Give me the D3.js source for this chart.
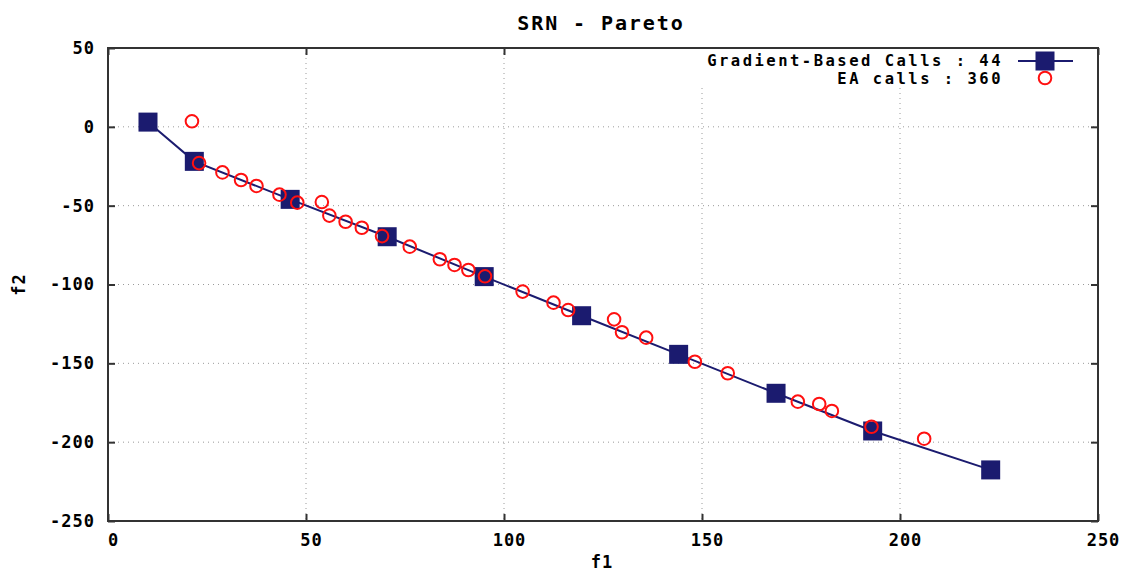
<!DOCTYPE html>
<html>
<head>
<meta charset="utf-8">
<script src="https://cdn.jsdelivr.net/npm/d3@7"></script>
<style>
  html, body { margin: 0; padding: 0; background: #fff; }
  svg { display: block; }
  text { font-family: "DejaVu Sans Mono", "Liberation Mono", monospace; fill: #000; font-weight: bold; }
</style>
</head>
<body>
<svg id="chart" width="1124" height="571"></svg>
<script>
// Pareto front approximations for the SRN test problem
const gradF1 = [10.1, 21.8, 46.0, 70.5, 95.0, 119.6, 144.1, 168.7, 193.1, 222.9];
const gradF2 = [3.0, -21.9, -46.0, -69.7, -95.0, -119.8, -144.3, -169.0, -192.9, -217.6];

const eaF1 = [21.2, 23.0, 28.9, 33.6, 37.5, 43.3, 47.8, 54.0, 55.9, 60.0,
              64.1, 69.2, 76.2, 83.8, 87.5, 91.0, 95.2, 104.7, 112.5, 116.2,
              127.8, 129.8, 135.9, 148.2, 156.5, 174.2, 179.6, 182.8, 192.8, 206.1];
const eaF2 = [3.5, -23.0, -28.9, -33.7, -37.5, -43.0, -48.1, -47.7, -56.3, -60.2,
              -64.0, -69.3, -76.0, -84.0, -87.6, -90.8, -94.8, -104.5, -111.5, -116.2,
              -122.1, -130.3, -133.7, -149.0, -156.3, -174.3, -175.8, -180.2, -190.2, -197.8];

const xTicks = [0, 50, 100, 150, 200, 250];
const yTicks = [50, 0, -50, -100, -150, -200, -250];

const seriesNames = ["Gradient-Based Calls : 44", "EA calls : 360"];
const titleText = "SRN - Pareto";
const xLabel = "f1";
const yLabel = "f2";

const gradData = gradF1.map((v, i) => ({ f1: v, f2: gradF2[i] }));
const eaData = eaF1.map((v, i) => ({ f1: v, f2: eaF2[i] }));

const svg = d3.select("#chart");
const pLeft = 108, pRight = 1098, pTop = 48, pBottom = 521;
const W = pRight - pLeft, H = pBottom - pTop;

const x = d3.scaleLinear().domain([0, 250]).range([pLeft, pRight]);
const y = d3.scaleLinear().domain([-250, 50]).range([pBottom, pTop]);

const navy = "#1b1b6f";
const red = "#ff1010";

// dotted grid
const grid = svg.append("g").attr("class", "grid");
grid.selectAll("line.gx").data(xTicks.filter(d => d > 0 && d < 250)).join("line")
  .attr("x1", d => x(d)).attr("x2", d => x(d)).attr("y1", pTop).attr("y2", pBottom)
  .attr("stroke", "#9a9a9a").attr("stroke-width", 1).attr("stroke-dasharray", "1,4");
grid.selectAll("line.gy").data(yTicks.filter(d => d > -250 && d < 50)).join("line")
  .attr("x1", pLeft).attr("x2", pRight).attr("y1", d => y(d)).attr("y2", d => y(d))
  .attr("stroke", "#9a9a9a").attr("stroke-width", 1).attr("stroke-dasharray", "1,4");

// axes with inward ticks on all four sides
const tick = 7;
function styleAxis(g) {
  g.select(".domain").remove();
  g.selectAll(".tick line").attr("stroke", "#333").attr("stroke-width", 2);
}
svg.append("g").attr("transform", `translate(0,${pBottom})`)
  .call(d3.axisBottom(x).tickValues(xTicks).tickSize(-tick).tickPadding(13).tickFormat(d3.format("d")))
  .call(styleAxis)
  .call(g => g.selectAll(".tick text").attr("font-size", 17).attr("dx", 5)
    .attr("font-family", "DejaVu Sans Mono").attr("letter-spacing", 1).attr("fill", "#000"));
svg.append("g").attr("transform", `translate(0,${pTop})`)
  .call(d3.axisTop(x).tickValues(xTicks).tickSize(-tick).tickFormat(""))
  .call(styleAxis);
svg.append("g").attr("transform", `translate(${pLeft},0)`)
  .call(d3.axisLeft(y).tickValues(yTicks).tickSize(-tick).tickPadding(13).tickFormat(d => d3.format("d")(d).replace("−", "-")))
  .call(styleAxis)
  .call(g => g.selectAll(".tick text").attr("font-size", 17)
    .attr("font-family", "DejaVu Sans Mono").attr("letter-spacing", 1).attr("fill", "#000"));
svg.append("g").attr("transform", `translate(${pRight},0)`)
  .call(d3.axisRight(y).tickValues(yTicks).tickSize(-tick).tickFormat(""))
  .call(styleAxis);

// frame
svg.append("rect").attr("x", pLeft).attr("y", pTop).attr("width", W).attr("height", H)
  .attr("fill", "none").attr("stroke", "#333").attr("stroke-width", 2);

// title and axis labels
svg.append("text").attr("x", 601).attr("y", 30).attr("text-anchor", "middle")
  .attr("font-size", 20).attr("letter-spacing", 1.9).text(titleText);
svg.append("text").attr("x", 602).attr("y", 568).attr("text-anchor", "middle")
  .attr("font-size", 17).attr("letter-spacing", 1).text(xLabel);
svg.append("text").attr("transform", `translate(25,${(pTop + pBottom) / 2}) rotate(-90)`)
  .attr("text-anchor", "middle").attr("font-size", 17).attr("letter-spacing", 1).text(yLabel);

// legend area
svg.append("rect").attr("x", 700).attr("y", pTop + 1).attr("width", pRight - 701).attr("height", 39)
  .attr("fill", "#fff");

// gradient-based front: line with square markers
const line = d3.line().x(d => x(d.f1)).y(d => y(d.f2));
svg.append("path").datum(gradData).attr("d", line)
  .attr("fill", "none").attr("stroke", navy).attr("stroke-width", 2);
const sq = 19;
svg.selectAll("rect.grad").data(gradData).join("rect").attr("class", "grad")
  .attr("x", d => x(d.f1) - sq / 2).attr("y", d => y(d.f2) - sq / 2)
  .attr("width", sq).attr("height", sq).attr("fill", navy);

// EA front: open circles
svg.selectAll("circle.ea").data(eaData).join("circle").attr("class", "ea")
  .attr("cx", d => x(d.f1)).attr("cy", d => y(d.f2)).attr("r", 6.3)
  .attr("fill", "none").attr("stroke", red).attr("stroke-width", 2);

// legend entries
const lg = svg.append("g");
lg.append("text").attr("x", 1003).attr("y", 66).attr("text-anchor", "end")
  .attr("font-size", 15.5).attr("letter-spacing", 2.5).text(seriesNames[0]);
lg.append("text").attr("x", 1003).attr("y", 84).attr("text-anchor", "end")
  .attr("font-size", 15.5).attr("letter-spacing", 2.5).text(seriesNames[1]);
lg.append("line").attr("x1", 1018).attr("x2", 1073).attr("y1", 61).attr("y2", 61)
  .attr("stroke", navy).attr("stroke-width", 2);
lg.append("rect").attr("x", 1045 - sq / 2).attr("y", 61 - sq / 2).attr("width", sq).attr("height", sq)
  .attr("fill", navy);
lg.append("circle").attr("cx", 1045).attr("cy", 78).attr("r", 6.3)
  .attr("fill", "none").attr("stroke", red).attr("stroke-width", 2);
</script>
</body>
</html>
